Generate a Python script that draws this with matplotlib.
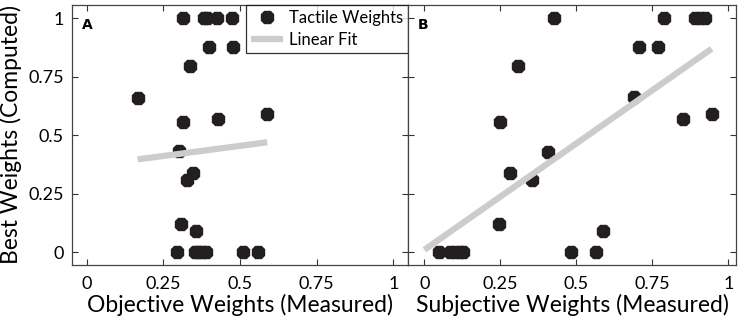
import matplotlib
matplotlib.use("Agg")
import matplotlib.pyplot as plt
import numpy as np

plt.rcParams['font.family'] = ['Lato', 'DejaVu Sans']

# Panel A: objective weights (measured) vs best weights (computed)
obj_x = [0.315, 0.384, 0.392, 0.424, 0.473, 0.400, 0.478, 0.337, 0.166, 0.313, 0.429, 0.589,
         0.300, 0.346, 0.326, 0.307, 0.357, 0.293, 0.353, 0.364, 0.376, 0.388, 0.511, 0.560]
obj_y = [1.0, 1.0, 1.0, 1.0, 1.0, 0.879, 0.879, 0.798, 0.661, 0.558, 0.570, 0.590,
         0.433, 0.340, 0.309, 0.120, 0.091, 0.0, 0.0, 0.0, 0.0, 0.0, 0.0, 0.0]

# Panel B: subjective weights (measured) vs best weights (computed)
subj_x = [0.425, 0.789, 0.890, 0.907, 0.923, 0.707, 0.770, 0.307, 0.688, 0.248, 0.850, 0.945,
          0.405, 0.283, 0.353, 0.246, 0.588, 0.049, 0.084, 0.101, 0.117, 0.128, 0.481, 0.565]
subj_y = [1.0, 1.0, 1.0, 1.0, 1.0, 0.879, 0.879, 0.798, 0.662, 0.558, 0.570, 0.590,
          0.430, 0.340, 0.309, 0.120, 0.091, 0.0, 0.0, 0.0, 0.0, 0.0, 0.0, 0.0]

# Linear fits (slope, intercept, x-range)
fit_a = dict(slope=0.173, intercept=0.368, x=[0.166, 0.589])
fit_b = dict(slope=0.910, intercept=0.010, x=[0.0, 0.945])

ticks = [0, 0.25, 0.5, 0.75, 1]
tick_labels = ['0', '0.25', '0.5', '0.75', '1']

fig = plt.figure(figsize=(7.43, 3.21), dpi=100)
axA = fig.add_axes([72/743, 1-265/321, 336/743, 260/321])
axB = fig.add_axes([408/743, 1-265/321, 328/743, 260/321])

dot_color = '#231f20'
line_color = '#cccccc'

for ax, xs, ys, fit, letter, xl, xlim in [
        (axA, obj_x, obj_y, fit_a, 'A', 'Objective Weights (Measured)', (-0.048, 1.048)),
        (axB, subj_x, subj_y, fit_b, 'B', 'Subjective Weights (Measured)', (-0.054, 1.025))]:
    fx = np.array(fit['x'])
    ax.plot(xs, ys, linestyle='none', marker='8', markersize=9.5,
            markerfacecolor=dot_color, markeredgecolor=dot_color, label='Tactile Weights', zorder=2)
    ax.plot(fx, fit['slope'] * fx + fit['intercept'], color=line_color, linewidth=4.5,
            solid_capstyle='butt', label='Linear Fit', zorder=3)
    ax.set_xlim(*xlim)
    ax.set_ylim(-0.055, 1.057)
    ax.set_xticks(ticks)
    ax.set_xticklabels(tick_labels)
    ax.set_yticks(ticks)
    ax.tick_params(direction='in', top=True, right=True, length=4, width=0.8,
                   labelsize=13, colors='#333333', labelcolor='black')
    ax.tick_params(axis='x', pad=8)
    ax.tick_params(axis='y', pad=6)
    ax.set_xlabel(xl, fontsize=16.5, labelpad=1)
    ax.text(0.03, 0.95, letter, transform=ax.transAxes, fontsize=10, fontweight='bold',
            ha='left', va='top', family='DejaVu Sans')
    for s in ax.spines.values():
        s.set_color('#444444')
        s.set_linewidth(0.9)

axA.set_yticklabels(tick_labels)
axB.set_yticklabels([])
axA.set_ylabel('Best Weights (Computed)', fontsize=16.5, labelpad=4)

leg = axA.legend(loc='upper right', bbox_to_anchor=(1.0, 1.0), frameon=True, fancybox=False,
                 edgecolor='black', fontsize=12, borderpad=0.3, handlelength=1.9,
                 handletextpad=0.35, labelspacing=0.35, borderaxespad=0.0)
leg.get_frame().set_linewidth(0.9)

fig.savefig('out.png', dpi=100)
